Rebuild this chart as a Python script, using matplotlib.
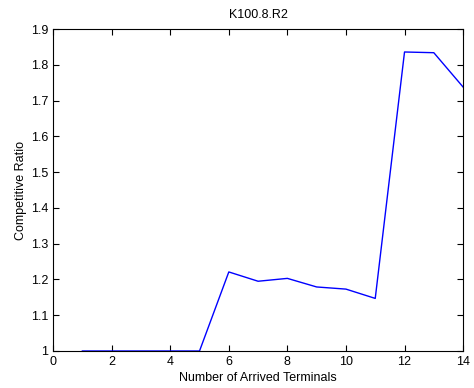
import matplotlib
matplotlib.use("Agg")
import matplotlib.pyplot as plt

x = [1, 2, 3, 4, 5, 6, 7, 8, 9, 10, 11, 12, 13, 14]
y = [1.0, 1.0, 1.0, 1.0, 1.0, 1.221, 1.195, 1.203, 1.179, 1.173, 1.147, 1.836, 1.834, 1.738]
xticks = list(range(0, 15, 2))
yticks = [1, 1.1, 1.2, 1.3, 1.4, 1.5, 1.6, 1.7, 1.8, 1.9]

plt.rcParams['font.family'] = ['Liberation Sans', 'DejaVu Sans']
fig = plt.figure(figsize=(4.74, 3.88), dpi=100)
ax = fig.add_axes([0.112, 0.0954, 0.865, 0.8296])
ax.plot(x, y, color='#0000ff', linewidth=1.0)
ax.set_xlim(0, 14)
ax.set_ylim(1, 1.9)
ax.set_xticks(xticks)
ax.set_xticklabels([str(t) for t in xticks])
ax.set_yticks(yticks)
ax.set_yticklabels(['1', '1.1', '1.2', '1.3', '1.4', '1.5', '1.6', '1.7', '1.8', '1.9'])
ax.tick_params(direction='in', top=True, right=True, labelsize=9, length=4, width=0.8)
for s in ax.spines.values():
    s.set_linewidth(0.8)
ax.set_xlabel('Number of Arrived Terminals', fontsize=9, labelpad=3)
ax.set_ylabel('Competitive Ratio', fontsize=9, labelpad=3)
ax.set_title('K100.8.R2', fontsize=9, pad=8)
fig.savefig('out.png', dpi=100)
